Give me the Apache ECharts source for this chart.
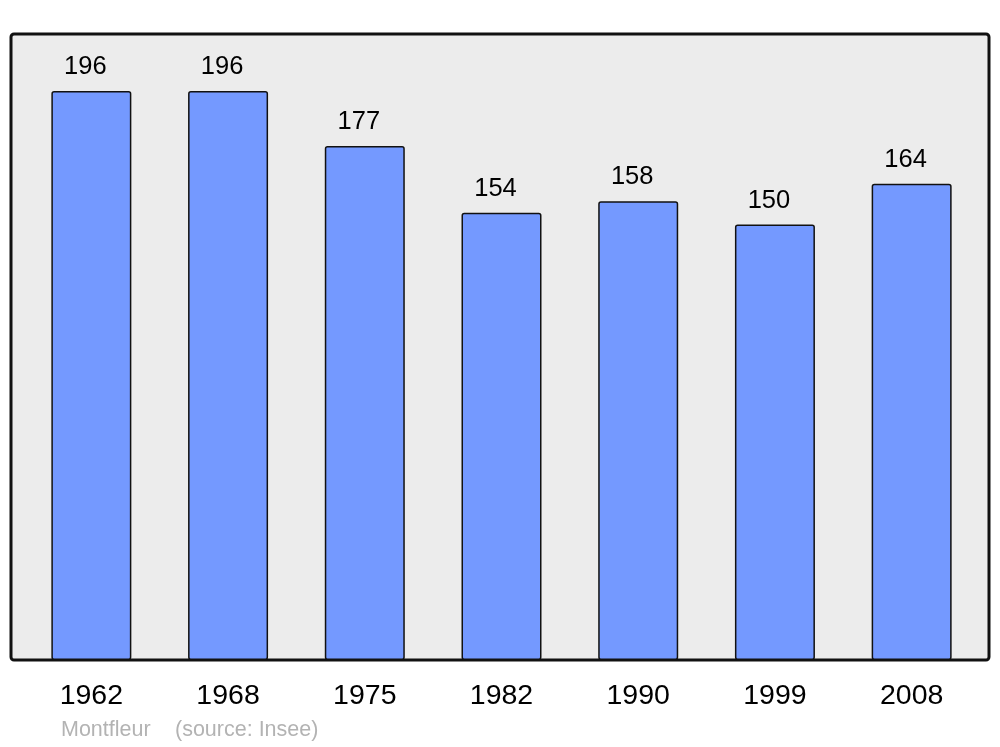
<!DOCTYPE html>
<html>
<head>
<meta charset="utf-8">
<script src="https://cdn.jsdelivr.net/npm/echarts@6/dist/echarts.min.js"></script>
<style>html,body{margin:0;padding:0;background:#fff}#c{width:1000px;height:747px}</style>
</head>
<body>
<div id="c"></div>
<script>
const years = ['1962', '1968', '1975', '1982', '1990', '1999', '2008'];
const population = [196, 196, 177, 154, 158, 150, 164];
const footerPlace = 'Montfleur';
const footerSource = '(source: Insee)';

const FONT = '"Liberation Sans", Arial, sans-serif';
const chart = echarts.init(document.getElementById('c'), null, {renderer: 'canvas'});
chart.setOption({
  animation: false,
  backgroundColor: '#ffffff',
  grid: {left: 23, right: 20, top: 34, bottom: 87, show: false},
  graphic: [
    {type: 'rect', z: -10, shape: {x: 11, y: 34, width: 978, height: 626, r: 3},
     style: {fill: '#ececec', stroke: '#111111', lineWidth: 3}},
    {type: 'text', left: 61, top: 719,
     style: {text: footerPlace, fill: '#b3b3b3', font: '21.5px ' + FONT}},
    {type: 'text', left: 175, top: 719,
     style: {text: footerSource, fill: '#b3b3b3', font: '21.5px ' + FONT}}
  ],
  xAxis: {
    type: 'category', data: years,
    axisLine: {show: false}, axisTick: {show: false},
    axisLabel: {margin: 22, color: '#000', fontSize: 28.5, fontFamily: FONT}
  },
  yAxis: {
    type: 'value', min: 0, max: 215.6,
    show: false, splitLine: {show: false}
  },
  series: [{
    type: 'bar', data: population, barWidth: 80,
    itemStyle: {color: '#7499ff', borderColor: '#111', borderWidth: 1.5, borderRadius: 2},
    label: {show: true, position: 'top', distance: 11, offset: [-6, 0], color: '#000', fontSize: 25.5,
            fontFamily: FONT}
  }]
});
</script>
</body>
</html>
